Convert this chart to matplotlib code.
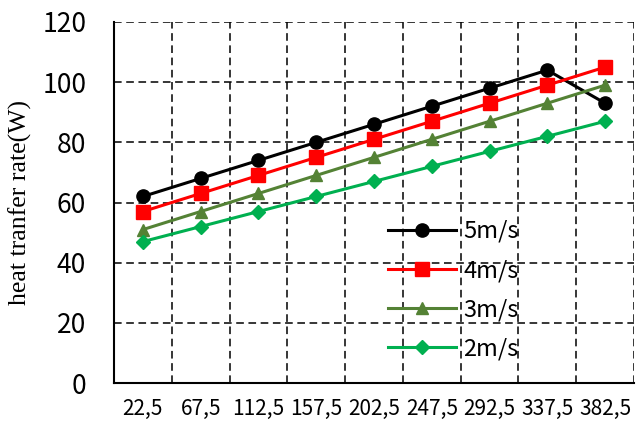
import matplotlib
matplotlib.use("Agg")
import matplotlib.pyplot as plt
import numpy as np

categories = ["22,5", "67,5", "112,5", "157,5", "202,5", "247,5", "292,5", "337,5", "382,5"]
s5 = [62, 68, 74, 80, 86, 92, 98, 104, 93]
s4 = [57, 63, 69, 75, 81, 87, 93, 99, 105]
s3 = [51, 57, 63, 69, 75, 81, 87, 93, 99]
s2 = [47, 52, 57, 62, 67, 72, 77, 82, 87]
labels = ["5m/s", "4m/s", "3m/s", "2m/s"]
yticks = [0, 20, 40, 60, 80, 100, 120]

sans = ["Noto Sans CJK SC", "DejaVu Sans"]

fig = plt.figure(figsize=(6.38, 4.21), dpi=100)
ax = fig.add_axes([114/638, 1-383/421, (634-114)/638, (383-22)/421])

x = np.arange(len(categories))
series = [
    (s5, "#000000", "o", 9.5),
    (s4, "#FF0000", "s", 9.5),
    (s3, "#548235", "^", 9.0),
    (s2, "#00B050", "D", 7.5),
]
for (vals, col, mk, ms), lab in zip(series, labels):
    ax.plot(x, vals, color=col, marker=mk, markersize=ms, linewidth=2.2,
            label=lab, zorder=3)

ax.set_xlim(-0.5, len(categories) - 0.5)
ax.set_ylim(0, 120)
ax.set_yticks(yticks)
ax.set_xticks(x)
ax.set_xticklabels(categories, family=sans, fontsize=15)
ax.set_yticklabels([str(v) for v in yticks], family=sans, fontsize=19)
ax.tick_params(axis="both", length=0)
ax.tick_params(axis="x", pad=11)
ax.tick_params(axis="y", pad=20)

# grid: horizontal at y ticks, vertical between categories
gkw = dict(color="black", linewidth=1.1, linestyle=(0, (5, 3)), zorder=1)
for yv in yticks[1:]:
    ax.axhline(yv, **gkw)
for xv in np.arange(0.5, len(categories), 1.0):
    ax.axvline(xv, **gkw)

for side in ["top", "right"]:
    ax.spines[side].set_visible(False)
ax.spines["left"].set_linewidth(1.5)
ax.spines["bottom"].set_linewidth(1.5)

ax.set_ylabel("heat tranfer rate(W)", family="Liberation Serif", fontsize=18.5, labelpad=7)

leg = ax.legend(loc="upper left", bbox_to_anchor=(388/638, 1-220/421),
                bbox_transform=fig.transFigure, frameon=False,
                prop={"family": sans, "size": 17}, handlelength=2.9,
                handletextpad=0.3, labelspacing=0.68, borderpad=0,
                borderaxespad=0)

fig.savefig("out.png", dpi=100)
